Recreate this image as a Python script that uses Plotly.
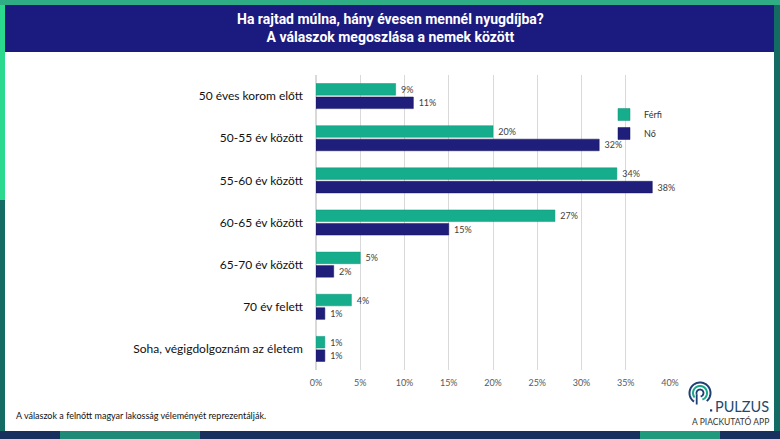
import math
import plotly.graph_objects as go

categories = ["50 éves korom előtt", "50-55 év között", "55-60 év között", "60-65 év között",
              "65-70 év között", "70 év felett", "Soha, végigdolgoznám az életem"]
ferfi = [9, 20, 34, 27, 5, 4, 1]
no = [11, 32, 38, 15, 2, 1, 1]
tick_vals = [0, 5, 10, 15, 20, 25, 30, 35, 40]
tick_text = ["0%", "5%", "10%", "15%", "20%", "25%", "30%", "35%", "40%"]

W, H = 780, 439
L, R, T, B = 316, 110, 75, 69
PW, PH = W - L - R, H - T - B


def X(px):
    return (px - L) / PW


def Y(py):
    return (H - B - py) / PH


TEAL = "#16ad8c"
NAVY = "#1f1e7a"
NBSP = "\u00a0"

fig = go.Figure()
fig.add_trace(go.Bar(
    y=categories, x=ferfi, name="Férfi", orientation="h",
    marker=dict(color=TEAL, line=dict(color="#12957a", width=0.5)),
    text=[f"{NBSP}{v}%" for v in ferfi], textposition="outside",
    textfont=dict(size=9, color="#404040", family="Lato"), cliponaxis=False,
))
fig.add_trace(go.Bar(
    y=categories, x=no, name="Nő", orientation="h",
    marker=dict(color=NAVY, line=dict(color="#15145a", width=0.5)),
    text=[f"{NBSP}{v}%" for v in no], textposition="outside",
    textfont=dict(size=9, color="#404040", family="Lato"), cliponaxis=False,
))

shapes = [
    dict(type="rect", xref="paper", yref="paper", x0=X(0), x1=X(W), y0=Y(H), y1=Y(0),
         fillcolor="#136b64", line=dict(width=0), layer="below"),
    dict(type="rect", xref="paper", yref="paper", x0=X(0), x1=X(6), y0=Y(200), y1=Y(0),
         fillcolor="#2bd98e", line=dict(width=0), layer="below"),
    dict(type="rect", xref="paper", yref="paper", x0=X(0), x1=X(W), y0=Y(5), y1=Y(0),
         fillcolor="#2fae86", line=dict(width=0), layer="below"),
    dict(type="rect", xref="paper", yref="paper", x0=X(0), x1=X(W), y0=Y(H), y1=Y(431),
         fillcolor="#17305e", line=dict(width=0), layer="below"),
    dict(type="rect", xref="paper", yref="paper", x0=X(60), x1=X(200), y0=Y(H), y1=Y(431),
         fillcolor="#1f8a78", line=dict(width=0), layer="below"),
    dict(type="rect", xref="paper", yref="paper", x0=X(640), x1=X(720), y0=Y(H), y1=Y(431),
         fillcolor="#1f9a7c", line=dict(width=0), layer="below"),
    dict(type="rect", xref="paper", yref="paper", x0=X(5), x1=X(774), y0=Y(431), y1=Y(52),
         fillcolor="white", line=dict(width=0), layer="below"),
    dict(type="rect", xref="paper", yref="paper", x0=X(5), x1=X(774), y0=Y(52), y1=Y(5),
         fillcolor="#1b1a7f", line=dict(width=0), layer="below"),
]


def arc_path(cx, cy, r, a0, a1, n=40):
    pts = []
    for i in range(n + 1):
        a = math.radians(a0 + (a1 - a0) * i / n)
        px = cx + r * math.cos(a)
        py = cy - r * math.sin(a)
        pts.append(f"{X(px):.5f},{Y(py):.5f}")
    return "M" + " L".join(pts)


cx, cy = 700, 393
shapes.append(dict(type="path", xref="paper", yref="paper",
                   path=arc_path(cx, cy, 10.5, -50, 235), line=dict(color="#1d3f73", width=2)))
shapes.append(dict(type="path", xref="paper", yref="paper",
                   path=arc_path(cx, cy, 7, -70, 220), line=dict(color="#17a88a", width=2)))
shapes.append(dict(type="path", xref="paper", yref="paper",
                   path=arc_path(cx, cy, 3.5, -80, 200, 30), line=dict(color="#1d3f73", width=1.8)))
shapes.append(dict(type="path", xref="paper", yref="paper",
                   path=f"M{X(696.7):.5f},{Y(394.2):.5f} L{X(696.7):.5f},{Y(404.5):.5f}",
                   line=dict(color="#1d3f73", width=1.8)))
shapes.append(dict(type="rect", xref="paper", yref="paper", x0=X(710), x1=X(712.2), y0=Y(411.5), y1=Y(409.3),
                   fillcolor="#1d3f73", line=dict(width=0)))

annotations = [
    dict(text="<b>Ha rajtad múlna, hány évesen mennél nyugdíjba?<br>A válaszok megoszlása a nemek között</b>",
         x=X(390), y=Y(28), xref="paper", yref="paper", showarrow=False, xanchor="center", yanchor="middle",
         font=dict(family="Roboto", size=14, color="white"), align="center"),
    dict(text="A válaszok a felnőtt magyar lakosság véleményét reprezentálják.",
         x=X(14), y=Y(415), xref="paper", yref="paper", showarrow=False, xanchor="left", yanchor="middle",
         font=dict(family="Lato", size=9, color="#111111")),
    dict(text="PULZUS", x=X(771), y=Y(406), xref="paper", yref="paper", showarrow=False,
         xanchor="right", yanchor="middle", font=dict(family="Lato", size=14.5, color="#1d4a6e")),
    dict(text="A PIACKUTATÓ APP", x=X(771), y=Y(421), xref="paper", yref="paper", showarrow=False,
         xanchor="right", yanchor="middle", font=dict(family="Lato", size=8.5, color="#333333")),
]

fig.update_layout(
    width=W, height=H,
    margin=dict(l=L, r=R, t=T, b=B, pad=0),
    paper_bgcolor="#136b64",
    plot_bgcolor="rgba(0,0,0,0)",
    barmode="group", bargap=0.36, bargroupgap=0.14,
    shapes=shapes, annotations=annotations,
    showlegend=True,
    legend=dict(x=X(604), y=Y(100), xanchor="left", yanchor="top", bgcolor="rgba(0,0,0,0)",
                font=dict(family="Lato", size=9, color="#333333"), itemwidth=30, tracegroupgap=0,
                traceorder="normal"),
    xaxis=dict(range=[0, 40], tickvals=tick_vals, ticktext=tick_text, showgrid=True,
               gridcolor="#d9d9d9", gridwidth=1, zeroline=True, zerolinecolor="#d9d9d9",
               tickfont=dict(family="Lato", size=9, color="#595959"), ticks="", ticklabelstandoff=6,
               fixedrange=True),
    yaxis=dict(autorange="reversed", showgrid=False, zeroline=False, ticks="",
               tickfont=dict(family="Lato", size=12, color="#111111"), ticklabelstandoff=12,
               fixedrange=True),
)

fig.write_html("out.html", config={"displayModeBar": False},
               post_script="document.body.style.margin='0';document.body.style.padding='0';")
